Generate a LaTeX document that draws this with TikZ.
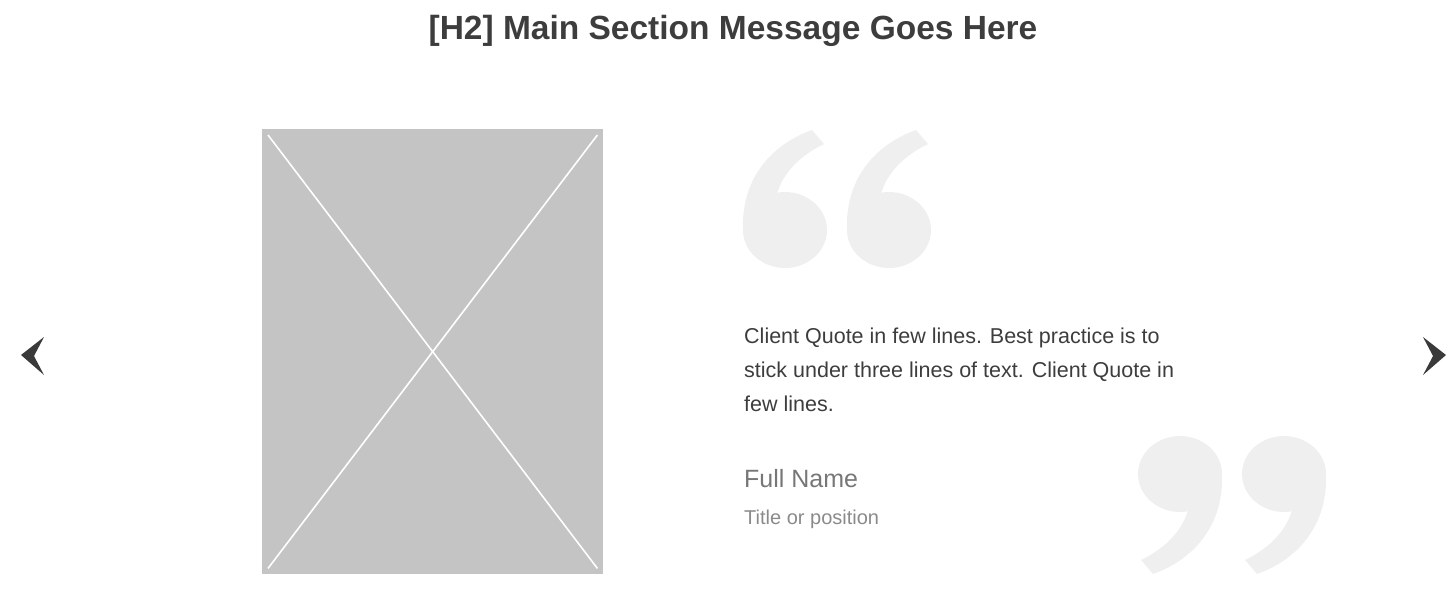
\documentclass[tikz,border=0pt]{standalone}
\usepackage{fontspec}
\setmainfont{Liberation Sans}
\begin{document}
\begin{tikzpicture}[x=1pt,y=-1pt,
  quotefill/.style={fill=qgray},
  txt/.style={anchor=base west,inner sep=0pt,text=bodyc},
  chev/.style={fill=arrowc}]
\definecolor{qgray}{HTML}{EFEFEF}
\definecolor{bodyc}{HTML}{3D3D3D}
\definecolor{namec}{HTML}{777777}
\definecolor{posc}{HTML}{8A8A8A}
\definecolor{imgc}{HTML}{C4C4C4}
\definecolor{arrowc}{HTML}{3A3A3A}
\useasboundingbox (0,0) rectangle (1455,595);
% opening quote
\begin{scope}
 \foreach \dx in {0,104}{
  \begin{scope}[shift={(785+\dx,230)}]
   \fill[qgray] (0,0) ellipse [x radius=42, y radius=38];
   \fill[qgray] (-42,0) .. controls (-44,-50) and (-15,-85) .. (27,-100) -- (39,-86) .. controls (10,-72) and (-8,-50) .. (-10,-25) -- (0,0) -- cycle;
  \end{scope}}
\end{scope}
% closing quote (point reflection)
\begin{scope}[shift={(1232,503)},rotate=180,shift={(-837,-201)}]
 \foreach \dx in {0,104}{
  \begin{scope}[shift={(785+\dx,230)}]
   \fill[qgray] (0,0) ellipse [x radius=42, y radius=38];
   \fill[qgray] (-42,0) .. controls (-44,-50) and (-15,-85) .. (27,-100) -- (39,-86) .. controls (10,-72) and (-8,-50) .. (-10,-25) -- (0,0) -- cycle;
  \end{scope}}
\end{scope}
% image placeholder
\node[fill=imgc,inner sep=0pt,minimum width=341,minimum height=445,anchor=north west] (img) at (262,129) {};
\draw[white,line width=1.6] ([shift={(6,6)}]img.north west) -- ([shift={(-6,-6)}]img.south east);
\draw[white,line width=1.6] ([shift={(-6,6)}]img.north east) -- ([shift={(6,-6)}]img.south west);
% title
\node[inner sep=0pt,anchor=base,text=bodyc,font=\bfseries\fontsize{33.5}{40}\selectfont] (title) at (733,39) {[H2] Main Section Message Goes Here};
% quote text
\node[txt,font=\fontsize{21.5}{26}\selectfont] (q1) at (744,343) {Client Quote in few lines. Best practice is to};
\node[txt,font=\fontsize{21.5}{26}\selectfont] (q2) at (744,377) {stick under three lines of text. Client Quote in};
\node[txt,font=\fontsize{21.5}{26}\selectfont] (q3) at (744,411) {few lines.};
\node[txt,text=namec,font=\fontsize{25}{30}\selectfont] (name) at (744,487) {Full Name};
\node[txt,text=posc,font=\fontsize{20}{24}\selectfont] (pos) at (744,524) {Title or position};
% arrows
\fill[arrowc] (21,355) -- (44,337) -- (34,356) -- (44,375) -- cycle;
\fill[arrowc] (1446,355) -- (1423,337) -- (1433,356) -- (1423,375) -- cycle;
\end{tikzpicture}
\end{document}
